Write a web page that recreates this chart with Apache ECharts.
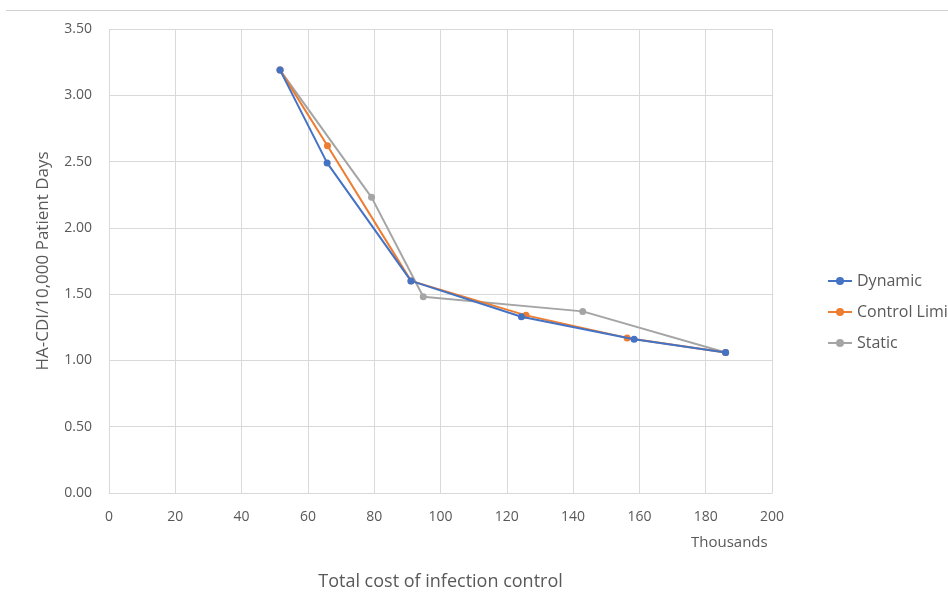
<!DOCTYPE html>
<html>
<head>
<meta charset="utf-8">
<script src="https://cdn.jsdelivr.net/npm/echarts@6/dist/echarts.min.js"></script>
<style>
  html, body { margin: 0; padding: 0; background: #fff; }
  #chart { width: 948px; height: 592px; }
</style>
</head>
<body>
<div id="chart"></div>
<script>
// Cost (thousands) vs HA-CDI rate for each control strategy
const dynamicCost = [51.6, 65.8, 91.1, 124.4, 158.4, 186.0];
const dynamicRate = [3.19, 2.49, 1.60, 1.33, 1.16, 1.06];

const controlLimitCost = [51.6, 65.9, 91.1, 125.8, 156.3, 186.0];
const controlLimitRate = [3.19, 2.62, 1.60, 1.34, 1.17, 1.06];

const staticCost = [51.6, 79.2, 94.8, 142.9, 186.0];
const staticRate = [3.19, 2.23, 1.48, 1.37, 1.06];

const seriesNames = ['Dynamic', 'Control Limit', 'Static'];
const seriesColors = ['#4472C4', '#ED7D31', '#A5A5A5'];

function pairs(xs, ys) { return xs.map((x, i) => [x, ys[i]]); }

const seriesData = [
  pairs(dynamicCost, dynamicRate),
  pairs(controlLimitCost, controlLimitRate),
  pairs(staticCost, staticRate)
];

const textColor = '#595959';
const font = 'Open Sans, sans-serif';

const chart = echarts.init(document.getElementById('chart'), null, { renderer: 'canvas' });
chart.setOption({
  animation: false,
  backgroundColor: '#fff',
  textStyle: { fontFamily: font },
  grid: { left: 109, right: 176, top: 29, bottom: 99, containLabel: false, outerBoundsMode: 'none' },
  legend: {
    orient: 'vertical',
    left: 822,
    top: 268,
    itemWidth: 24,
    itemHeight: 10,
    itemGap: 15,
    textStyle: { color: textColor, fontSize: 16, fontFamily: font },
    data: seriesNames
  },
  xAxis: {
    type: 'value',
    min: 0, max: 200, interval: 20,
    name: 'Total cost of infection control',
    nameLocation: 'middle',
    nameGap: 80,
    nameTextStyle: { color: textColor, fontSize: 18, fontFamily: font },
    axisLine: { show: true, lineStyle: { color: '#d9d9d9' } },
    axisTick: { show: false },
    axisLabel: { color: textColor, fontSize: 14, margin: 17 },
    splitLine: { show: true, lineStyle: { color: '#d9d9d9' } }
  },
  yAxis: {
    type: 'value',
    min: 0, max: 3.5, interval: 0.5,
    name: 'HA-CDI/10,000 Patient Days',
    nameLocation: 'middle',
    nameGap: 57,
    nameTextStyle: { color: textColor, fontSize: 17, fontFamily: font },
    axisLine: { show: false },
    axisTick: { show: false },
    axisLabel: { color: textColor, fontSize: 14, margin: 17,
      formatter: v => v.toFixed(2) },
    splitLine: { show: true, lineStyle: { color: '#d9d9d9' } }
  },
  graphic: [
    { type: 'line', shape: { x1: 6, y1: 10.5, x2: 948, y2: 10.5 },
      style: { stroke: '#d0d0d0', lineWidth: 1 } },
    { type: 'text', left: 691, top: 535,
      style: { text: 'Thousands', fill: textColor, fontSize: 15, fontFamily: font } }
  ],
  series: seriesNames.map((name, i) => ({
    name: name,
    type: 'line',
    data: seriesData[i],
    color: seriesColors[i],
    symbol: 'circle',
    symbolSize: 7,
    lineStyle: { width: 2, color: seriesColors[i] },
    itemStyle: { color: seriesColors[i] },
    z: 3 - i
  }))
});
</script>
</body>
</html>
